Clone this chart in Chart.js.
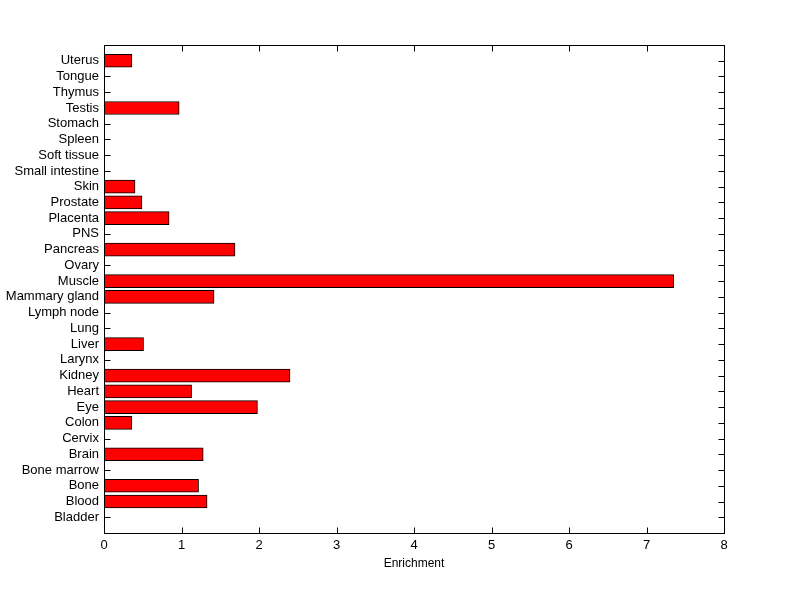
<!DOCTYPE html>
<html>
<head>
<meta charset="utf-8">
<script src="https://cdn.jsdelivr.net/npm/chart.js@4/dist/chart.umd.min.js"></script>
<style>
  html, body { margin: 0; padding: 0; background: #fff; }
  #wrap { width: 800px; height: 599px; }
</style>
</head>
<body>
<div id="wrap"><canvas id="chart" width="800" height="599"></canvas></div>
<script>
// tissues, bottom to top as in the figure
const tissues = [
  "Bladder", "Blood", "Bone", "Bone marrow", "Brain", "Cervix", "Colon", "Eye",
  "Heart", "Kidney", "Larynx", "Liver", "Lung", "Lymph node", "Mammary gland",
  "Muscle", "Ovary", "Pancreas", "PNS", "Placenta", "Prostate", "Skin",
  "Small intestine", "Soft tissue", "Spleen", "Stomach", "Testis", "Thymus",
  "Tongue", "Uterus"
];
const enrichment = [
  0, 1.33, 1.22, 0, 1.28, 0, 0.36, 1.98,
  1.13, 2.40, 0, 0.51, 0, 0, 1.42,
  7.35, 0, 1.69, 0, 0.84, 0.49, 0.40,
  0, 0, 0, 0, 0.97, 0,
  0, 0.36
];
const xTicks = [0, 1, 2, 3, 4, 5, 6, 7, 8];

const font = { family: "'Liberation Sans', Arial, sans-serif", size: 13 };

function edges(a) {
  return {
    L: Math.round(a.left) + 0.5, R: Math.round(a.right) + 0.5,
    T: Math.round(a.top) + 0.5, B: Math.round(a.bottom) + 0.5
  };
}

// MATLAB-like box with inward ticks on all four sides
const boxPlugin = {
  id: "box",
  beforeDatasetsDraw(c) {
    // ticks go under the bars, like in the original
    const ctx = c.ctx;
    const { L, R, T, B } = edges(c.chartArea);
    const xs = c.scales.x, ys = c.scales.y;
    ctx.save();
    ctx.strokeStyle = "#000";
    ctx.lineWidth = 1;
    ctx.beginPath();
    xTicks.forEach(v => {
      const px = Math.round(xs.getPixelForValue(v)) + 0.5;
      ctx.moveTo(px, B); ctx.lineTo(px, B - 6);
      ctx.moveTo(px, T); ctx.lineTo(px, T + 6);
    });
    tissues.forEach((t, i) => {
      const py = Math.round(ys.getPixelForValue(i + 1)) + 0.5;
      ctx.moveTo(L, py); ctx.lineTo(L + 6, py);
      ctx.moveTo(R, py); ctx.lineTo(R - 6, py);
    });
    ctx.stroke();
    ctx.restore();
  },
  afterDraw(c) {
    const ctx = c.ctx;
    const { L, R, T, B } = edges(c.chartArea);
    ctx.save();
    ctx.strokeStyle = "#000";
    ctx.lineWidth = 1;
    ctx.strokeRect(L, T, R - L, B - T);
    ctx.restore();
  }
};

new Chart(document.getElementById("chart"), {
  type: "bar",
  data: {
    datasets: [{
      data: enrichment.map((v, i) => ({ x: v, y: i + 1 })),
      backgroundColor: "#ff0000",
      borderColor: "#000",
      borderWidth: 1,
      borderSkipped: false,
      barThickness: 13
    }]
  },
  options: {
    indexAxis: "y",
    responsive: false,
    animation: false,
    layout: { padding: { left: 0, top: 45, right: 76, bottom: 0 } },
    plugins: { legend: { display: false }, tooltip: { enabled: false } },
    scales: {
      x: {
        type: "linear",
        min: 0, max: 8,
        afterBuildTicks: s => { s.ticks = xTicks.map(v => ({ value: v })); },
        afterFit: s => { s.height = 66; },
        grid: { display: false, drawTicks: false },
        border: { display: false },
        ticks: { color: "#000", font, padding: 5 },
        title: { display: true, text: "Enrichment", color: "#000", font: { family: font.family, size: 12 }, padding: { top: 0, bottom: 28 } }
      },
      y: {
        type: "linear",
        offset: false,
        min: 0, max: tissues.length + 1,
        afterBuildTicks: s => { s.ticks = tissues.map((t, i) => ({ value: i + 1 })); },
        afterFit: s => { s.width = 104; },
        grid: { display: false, drawTicks: false },
        border: { display: false },
        ticks: { color: "#000", font, padding: 5, autoSkip: false, callback: v => tissues[v - 1] }
      }
    }
  },
  plugins: [boxPlugin]
});
</script>
</body>
</html>
